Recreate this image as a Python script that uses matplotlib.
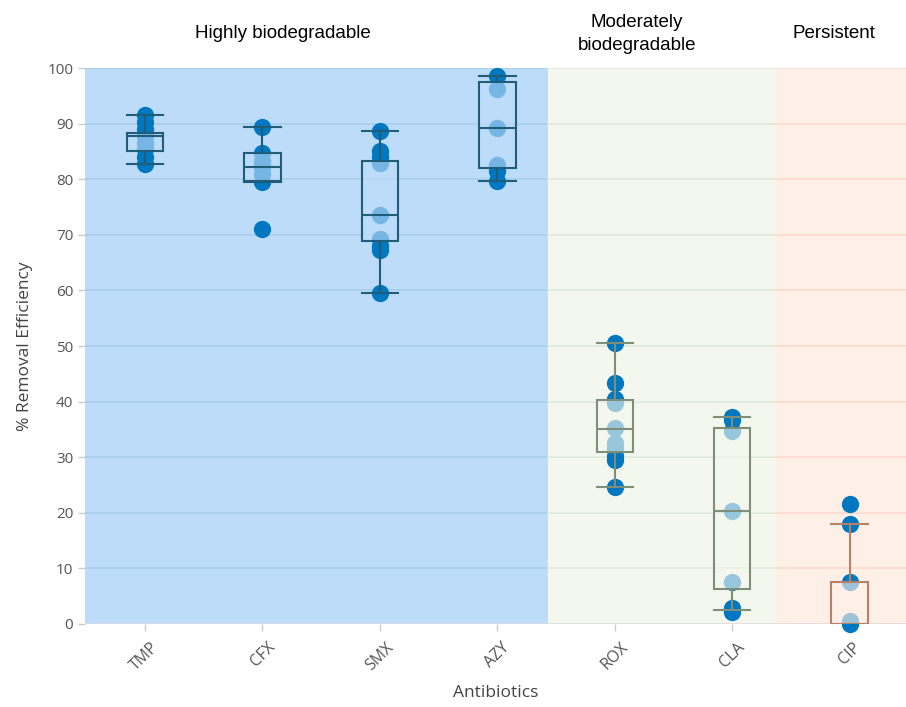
import numpy as np
import matplotlib.pyplot as plt

# ---------------------------------------------------------------
# Données : % d'élimination par antibiotique
# ---------------------------------------------------------------
antibiotics = ["TMP", "CFX", "SMX", "AZY", "ROX", "CLA", "CIP"]

tmp = [91.5, 90.3, 89.0, 87.8, 86.5, 85.5, 84.0, 82.7]
cfx = [89.4, 84.8, 83.2, 82.2, 81.0, 79.5, 71.0]
smx = [88.7, 85.0, 84.0, 83.0, 73.6, 69.3, 68.0, 67.3, 59.6]
azy = [98.5, 96.3, 89.2, 82.6, 81.4, 79.6]
rox = [50.6, 43.4, 40.4, 39.7, 35.2, 32.5, 31.6, 30.3, 29.5, 24.6]
cla = [37.3, 36.7, 34.8, 20.3, 7.5, 2.8, 2.2]
cip = [21.6, 18.0, 7.6, 0.5, 0.0]
values = [tmp, cfx, smx, azy, rox, cla, cip]

# statistiques des boîtes
whis_lo = [82.7, 79.5, 59.6, 79.7, 24.6, 2.5, 0.0]
q1 = [85.1, 79.6, 68.9, 82.1, 31.0, 6.3, 0.0]
med = [87.8, 82.2, 73.5, 89.2, 35.1, 20.4, 0.0]
q3 = [88.3, 84.7, 83.2, 97.4, 40.2, 35.3, 7.5]
whis_hi = [91.5, 89.4, 88.7, 98.5, 50.6, 37.2, 17.9]

groups = ["Highly biodegradable", "Moderately\nbiodegradable", "Persistent"]
group_of = [0, 0, 0, 0, 1, 1, 2]
group_edges = [-0.51, 3.43, 5.37, 6.48]

band_col = ["#bcdcfa", "#f4f7ee", "#fef0e6"]
grid_col = ["#a9cfeb", "#e2eadf", "#fbdccf"]
box_col = ["#1f5d78", "#7d8e79", "#b98068"]
pt_col = "#0078c1"

fig = plt.figure(figsize=(9.06, 7.07), dpi=100)
ax = fig.add_axes([0.094, 0.1174, 0.906, 0.7864])

x = np.arange(len(antibiotics))

# bandes de fond + grille
for g in range(3):
    ax.axvspan(group_edges[g], group_edges[g + 1], color=band_col[g], lw=0, zorder=0)
    for yv in range(10, 101, 10):
        ax.plot([group_edges[g], group_edges[g + 1]], [yv, yv], color=grid_col[g],
                lw=1.3, zorder=1)
ax.axhline(0, color="#dddddd", lw=1.2, zorder=1)

# points
for i, v in enumerate(values):
    ax.scatter(np.full(len(v), x[i]), v, s=155, color=pt_col, lw=0, zorder=2,
               clip_on=False)

# boîtes
for i in range(len(antibiotics)):
    g = group_of[i]
    st = [dict(med=med[i], q1=q1[i], q3=q3[i], whislo=whis_lo[i], whishi=whis_hi[i],
               fliers=[])]
    ax.bxp(st, positions=[x[i]], widths=0.31, showfliers=False, patch_artist=True,
           manage_ticks=False,
           boxprops=dict(facecolor=band_col[g] + "a0", edgecolor=box_col[g], lw=1.5),
           medianprops=dict(color=box_col[g], lw=1.5),
           whiskerprops=dict(color=box_col[g], lw=1.5),
           capprops=dict(color=box_col[g], lw=1.5), capwidths=0.31, zorder=3)

ax.set_xlim(group_edges[0], group_edges[-1])
ax.set_ylim(0, 100)
ax.set_yticks(range(0, 101, 10))
ax.set_xticks(x)
ax.set_xticklabels(antibiotics, rotation=45, fontfamily="Open Sans", fontsize=11.5,
                   color="#555555")
for lab in ax.get_yticklabels():
    lab.set_fontfamily("Open Sans")
    lab.set_fontsize(11)
    lab.set_color("#555555")
ax.tick_params(axis="both", length=5, color="#cccccc", width=1)
ax.tick_params(axis="x", pad=6)
for s in ax.spines.values():
    s.set_visible(False)

ax.set_ylabel("% Removal Efficiency", fontfamily="Open Sans", fontsize=12.5,
              color="#444444", labelpad=10)
ax.set_xlabel("Antibiotics", fontfamily="Open Sans", fontsize=12.5, color="#444444",
              labelpad=8)

# titres de groupes
centres = [283, 637, 834]
for g in range(3):
    fig.text(centres[g] / 906, 1 - 34 / 707, groups[g], ha="center", va="center",
             fontfamily="Liberation Sans", fontsize=13.5, linespacing=1.45)

fig.savefig("out.png", dpi=100)
